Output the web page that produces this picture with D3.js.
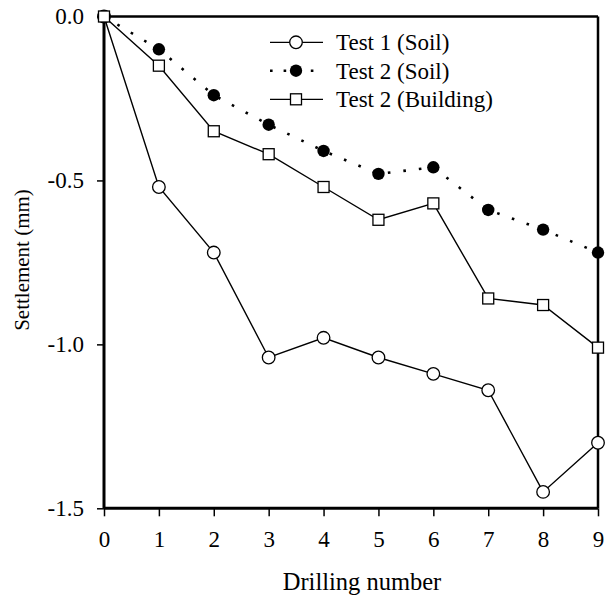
<!DOCTYPE html>
<html>
<head>
  <meta charset="utf-8">
  <title>Settlement vs drilling number</title>
  <style type="text/css">
    body { margin: 0; background: #fff; }
    text { font-family: "Liberation Serif", "Times New Roman", serif; fill: #000; }
  </style>
</head>
<body>
  <div id="chart"></div>
  <script src="https://cdn.jsdelivr.net/npm/d3@7"></script>
  <script type="text/javascript">
    // data
    var drilling = [0, 1, 2, 3, 4, 5, 6, 7, 8, 9];
    var test1Soil = [0, -0.52, -0.72, -1.04, -0.98, -1.04, -1.09, -1.14, -1.45, -1.30];
    var test2Soil = [0, -0.10, -0.24, -0.33, -0.41, -0.48, -0.46, -0.59, -0.65, -0.72];
    var test2Building = [0, -0.15, -0.35, -0.42, -0.52, -0.62, -0.57, -0.86, -0.88, -1.01];
    var yTicks = [0, -0.5, -1.0, -1.5];
    var legendLabels = ['Test 1 (Soil)', 'Test 2 (Soil)', 'Test 2 (Building)'];

    var width = 606, height = 597;
    var plotLeft = 104, plotRight = 598, plotTop = 16.5, plotBottom = 508.3;

    var svg = d3.select('#chart')
      .append('svg')
      .attr('width', width)
      .attr('height', height);

    var x = d3.scaleLinear().domain([0, 9]).range([plotLeft, plotRight]);
    var y = d3.scaleLinear().domain([0, -1.5]).range([plotTop, plotBottom]);

    // axes
    var xAxis = svg.append('g')
      .attr('transform', 'translate(0,' + plotBottom + ')')
      .call(d3.axisBottom(x).tickValues(drilling).tickSize(8).tickPadding(14).tickFormat(d3.format('d')));
    var yAxis = svg.append('g')
      .attr('transform', 'translate(' + plotLeft + ',0)')
      .call(d3.axisLeft(y).tickValues(yTicks).tickSize(7).tickPadding(13));

    [xAxis, yAxis].forEach(function(g) {
      g.select('.domain').remove();
      g.selectAll('.tick line').attr('stroke', '#000').attr('stroke-width', 1.5);
      g.selectAll('.tick text').style('font-size', '23px').attr('fill', '#000');
    });
    yAxis.selectAll('.tick text').text(function(d) { return d === 0 ? '0.0' : '-' + Math.abs(d).toFixed(1); });

    // frame
    svg.append('line').attr('x1', plotLeft).attr('x2', plotLeft).attr('y1', plotTop).attr('y2', plotBottom)
      .attr('stroke', '#000').attr('stroke-width', 3);
    svg.append('line').attr('x1', plotLeft).attr('x2', plotRight).attr('y1', plotBottom).attr('y2', plotBottom)
      .attr('stroke', '#000').attr('stroke-width', 3);
    svg.append('line').attr('x1', plotLeft).attr('x2', plotRight).attr('y1', plotTop).attr('y2', plotTop)
      .attr('stroke', '#000').attr('stroke-width', 2.5);
    svg.append('line').attr('x1', plotRight).attr('x2', plotRight).attr('y1', plotTop).attr('y2', plotBottom)
      .attr('stroke', '#000').attr('stroke-width', 2.5);

    // axis titles
    svg.append('text')
      .attr('x', 362)
      .attr('y', 590)
      .attr('text-anchor', 'middle')
      .style('font-size', '24.5px')
      .text('Drilling number');
    svg.append('text')
      .attr('transform', 'translate(29,' + 260 + ') rotate(-90)')
      .attr('text-anchor', 'middle')
      .style('font-size', '21px')
      .text('Settlement (mm)');

    var line = d3.line()
      .x(function(d, i) { return x(drilling[i]); })
      .y(function(d) { return y(d); });

    // Test 1 (Soil): open circles, solid line
    svg.append('path').datum(test1Soil)
      .attr('d', line).attr('fill', 'none').attr('stroke', '#000').attr('stroke-width', 1.4);
    svg.selectAll('.c1').data(test1Soil).enter().append('circle')
      .attr('class', 'c1')
      .attr('cx', function(d, i) { return x(drilling[i]); })
      .attr('cy', function(d) { return y(d); })
      .attr('r', 6.3)
      .attr('fill', '#fff').attr('stroke', '#000').attr('stroke-width', 1.3);

    // Test 2 (Soil): filled circles, dotted line
    svg.append('path').datum(test2Soil)
      .attr('d', line).attr('fill', 'none').attr('stroke', '#000')
      .attr('stroke-width', 2.6).attr('stroke-dasharray', '2.6,13');
    svg.selectAll('.c2').data(test2Soil).enter().append('circle')
      .attr('class', 'c2')
      .attr('cx', function(d, i) { return x(drilling[i]); })
      .attr('cy', function(d) { return y(d); })
      .attr('r', 6.2)
      .attr('fill', '#000');

    // Test 2 (Building): open squares, solid line
    svg.append('path').datum(test2Building)
      .attr('d', line).attr('fill', 'none').attr('stroke', '#000').attr('stroke-width', 1.4);
    svg.selectAll('.s3').data(test2Building).enter().append('rect')
      .attr('class', 's3')
      .attr('x', function(d, i) { return x(drilling[i]) - 5.5; })
      .attr('y', function(d) { return y(d) - 5.5; })
      .attr('width', 11).attr('height', 11)
      .attr('fill', '#fff').attr('stroke', '#000').attr('stroke-width', 1.3);

    // legend
    var legend = svg.append('g');
    var rowY = [42.3, 70.7, 99.3];
    legendLabels.forEach(function(lab, i) {
      var g = legend.append('g').attr('transform', 'translate(0,' + rowY[i] + ')');
      if (i === 1) {
        g.append('line').attr('x1', 270).attr('x2', 323).attr('y1', 0).attr('y2', 0)
          .attr('stroke', '#000').attr('stroke-width', 2.6).attr('stroke-dasharray', '2.6,11');
        g.append('circle').attr('cx', 296).attr('cy', 0).attr('r', 6.2).attr('fill', '#000');
      } else {
        g.append('line').attr('x1', 270).attr('x2', 323).attr('y1', 0).attr('y2', 0)
          .attr('stroke', '#000').attr('stroke-width', 1.2);
        if (i === 0) {
          g.append('circle').attr('cx', 296).attr('cy', 0).attr('r', 6.3)
            .attr('fill', '#fff').attr('stroke', '#000').attr('stroke-width', 1.3);
        } else {
          g.append('rect').attr('x', 290.5).attr('y', -5.5).attr('width', 11).attr('height', 11)
            .attr('fill', '#fff').attr('stroke', '#000').attr('stroke-width', 1.3);
        }
      }
      g.append('text').attr('x', 336).attr('y', 0).attr('dy', '0.35em')
        .style('font-size', '23px').text(lab);
    });
  </script>
</body>
</html>
